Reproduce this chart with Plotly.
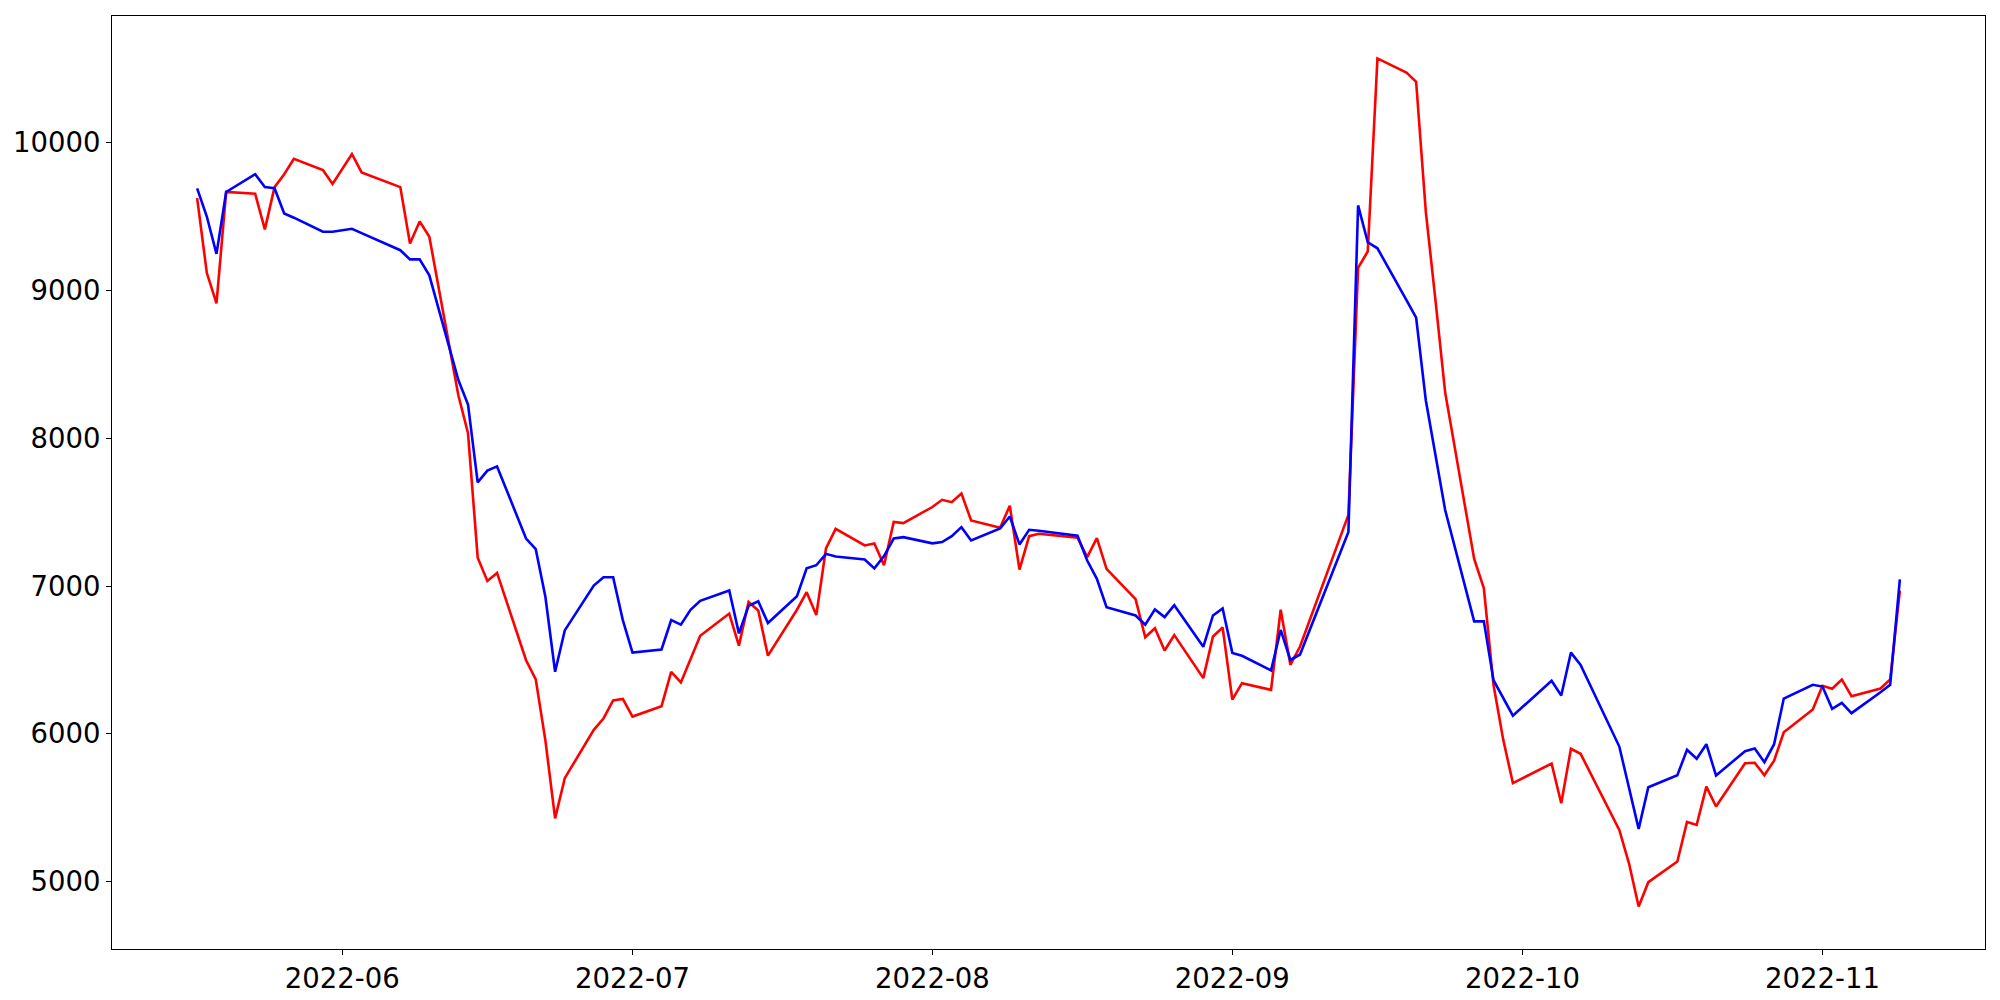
import plotly.graph_objects as go
import pandas as pd

dates = [
    "2022-05-17", "2022-05-18", "2022-05-19", "2022-05-20", "2022-05-23", "2022-05-24", "2022-05-25",
    "2022-05-26", "2022-05-27", "2022-05-30", "2022-05-31", "2022-06-02", "2022-06-03", "2022-06-07",
    "2022-06-08", "2022-06-09", "2022-06-10", "2022-06-13", "2022-06-14", "2022-06-15", "2022-06-16",
    "2022-06-17", "2022-06-20", "2022-06-21", "2022-06-22", "2022-06-23", "2022-06-24", "2022-06-27",
    "2022-06-28", "2022-06-29", "2022-06-30", "2022-07-01", "2022-07-04", "2022-07-05", "2022-07-06",
    "2022-07-07", "2022-07-08", "2022-07-11", "2022-07-12", "2022-07-13", "2022-07-14", "2022-07-15",
    "2022-07-18", "2022-07-19", "2022-07-20", "2022-07-21", "2022-07-22", "2022-07-25", "2022-07-26",
    "2022-07-27", "2022-07-28", "2022-07-29", "2022-08-01", "2022-08-02", "2022-08-03", "2022-08-04",
    "2022-08-05", "2022-08-08", "2022-08-09", "2022-08-10", "2022-08-11", "2022-08-12", "2022-08-16",
    "2022-08-17", "2022-08-18", "2022-08-19", "2022-08-22", "2022-08-23", "2022-08-24", "2022-08-25",
    "2022-08-26", "2022-08-29", "2022-08-30", "2022-08-31", "2022-09-01", "2022-09-02", "2022-09-05",
    "2022-09-06", "2022-09-07", "2022-09-08", "2022-09-13", "2022-09-14", "2022-09-15", "2022-09-16",
    "2022-09-19", "2022-09-20", "2022-09-21", "2022-09-22", "2022-09-23", "2022-09-26", "2022-09-27",
    "2022-09-28", "2022-09-29", "2022-09-30", "2022-10-04", "2022-10-05", "2022-10-06", "2022-10-07",
    "2022-10-11", "2022-10-12", "2022-10-13", "2022-10-14", "2022-10-17", "2022-10-18", "2022-10-19",
    "2022-10-20", "2022-10-21", "2022-10-24", "2022-10-25", "2022-10-26", "2022-10-27", "2022-10-28",
    "2022-10-31", "2022-11-01", "2022-11-02", "2022-11-03", "2022-11-04", "2022-11-07", "2022-11-08",
    "2022-11-09",
]

red_values = [
    9626, 9120, 8913, 9667, 9655, 9414, 9700,
    9787, 9891, 9816, 9721, 9924, 9800, 9700,
    9319, 9468, 9364, 8291, 8034, 7192, 7035,
    7089, 6498, 6369, 5954, 5428, 5700, 6027,
    6104, 6226, 6236, 6117, 6187, 6420, 6348,
    6506, 6664, 6814, 6597, 6892, 6835, 6529,
    6840, 6959, 6804, 7255, 7387, 7275, 7288,
    7141, 7434, 7426, 7535, 7584, 7568, 7627,
    7444, 7395, 7544, 7112, 7338, 7354, 7327,
    7196, 7325, 7117, 6912, 6654, 6715, 6564,
    6668, 6377, 6659, 6720, 6232, 6343, 6298,
    6840, 6467, 6591, 7482, 9153, 9265, 10571,
    10475, 10413, 9534, 8933, 8311, 7184, 6985,
    6330, 5961, 5667, 5799, 5530, 5899, 5865,
    5350, 5124, 4831, 4996, 5136, 5404, 5384,
    5643, 5508, 5801, 5804, 5720, 5819, 6011,
    6165, 6325, 6305, 6368, 6255, 6307, 6368,
    6970,
]

blue_values = [
    9692, 9501, 9248, 9667, 9787, 9700, 9692,
    9522, 9493, 9398, 9398, 9418, 9389, 9273,
    9211, 9211, 9103, 8394, 8229, 7702, 7781,
    7810, 7322, 7250, 6926, 6420, 6700, 7003,
    7060, 7060, 6770, 6550, 6571, 6770, 6739,
    6840, 6900, 6970, 6680, 6866, 6897, 6750,
    6931, 7120, 7141, 7218, 7200, 7180, 7120,
    7203, 7322, 7331, 7289, 7298, 7338, 7399,
    7309, 7390, 7471, 7282, 7381, 7374, 7341,
    7173, 7049, 6857, 6801, 6738, 6842, 6790,
    6871, 6589, 6801, 6849, 6548, 6528, 6429,
    6703, 6500, 6537, 7366, 9576, 9327, 9286,
    8935, 8817, 8258, 7897, 7515, 6761, 6761,
    6363, 6239, 6123, 6359, 6259, 6550, 6467,
    5914, 5630, 5357, 5639, 5720, 5892, 5831,
    5930, 5718, 5883, 5901, 5808, 5930, 6239,
    6332, 6320, 6169, 6210, 6140, 6282, 6332,
    7045,
]

x = pd.to_datetime(dates)

fig = go.Figure()
fig.add_trace(go.Scatter(x=x, y=red_values, mode="lines",
                         line=dict(color="red", width=2.6), showlegend=False))
fig.add_trace(go.Scatter(x=x, y=blue_values, mode="lines",
                         line=dict(color="blue", width=2.6), showlegend=False))

# matplotlib-like 5% margins
xmin, xmax = x.min(), x.max()
xpad = (xmax - xmin) * 0.05
allv = red_values + blue_values
ymin, ymax = min(allv), max(allv)
ypad = (ymax - ymin) * 0.05

font = dict(family="DejaVu Sans", size=27.5, color="black")

# the page body adds an 8px offset, so the figure is sized to fit the window
fig.update_layout(
    width=1992, height=992,
    margin=dict(l=104, r=15, t=8, b=51, pad=0),
    paper_bgcolor="white", plot_bgcolor="white",
    font=font,
    xaxis=dict(
        type="date", automargin=False,
        range=[xmin - xpad, xmax + xpad],
        tick0="2022-06-01", dtick="M1", tickformat="%Y-%m",
        showgrid=False, zeroline=False,
        showline=True, linecolor="black", linewidth=1.2, mirror=True,
        ticks="outside", ticklen=5, tickwidth=1.2, tickcolor="black",
        tickfont=font,
    ),
    yaxis=dict(
        automargin=False,
        range=[ymin - ypad, ymax + ypad],
        tick0=0, dtick=1000,
        showgrid=False, zeroline=False,
        showline=True, linecolor="black", linewidth=1.2, mirror=True,
        ticks="outside", ticklen=5, tickwidth=1.2, tickcolor="black",
        tickfont=font,
        tickformat="d",
    ),
)

fig.write_html("out.html")
